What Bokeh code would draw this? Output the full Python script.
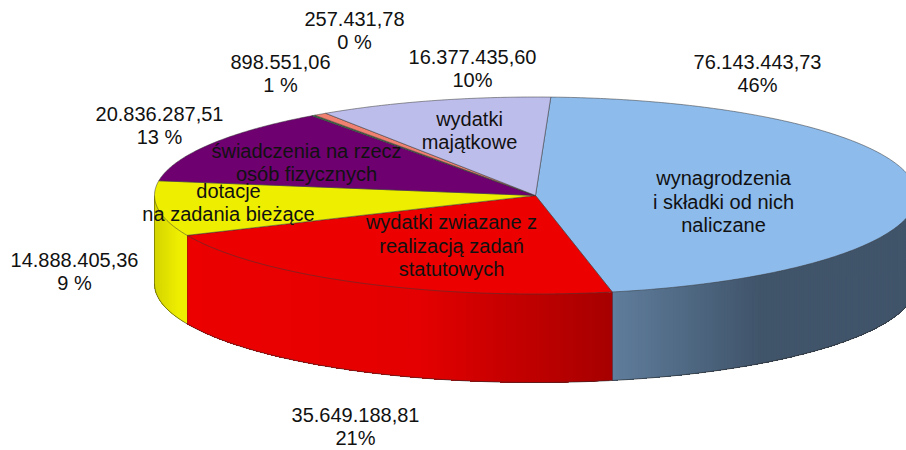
import math
from bokeh.plotting import figure, ColumnDataSource
from bokeh.models import Range1d
from bokeh.core.properties import value
from bokeh.embed import file_html
from bokeh.resources import INLINE

categories = ["wynagrodzenia\ni składki od nich\nnaliczane",
              "wydatki zwiazane z\nrealizacją zadań\nstatutowych",
              "dotacje\nna zadania bieżące",
              "świadczenia na rzecz\nosób fizycznych",
              "", "",
              "wydatki\nmajątkowe"]
values = [76143443.73, 35649188.81, 14888405.36, 20836287.51, 257431.78, 898551.06, 16377435.60]
percents = ["46%", "21%", "9 %", "13 %", "0 %", "1 %", "10%"]
top_colors = ["#8DBBEC", "#EC0000", "#EEEE00", "#6F0070", "#2F6F3F", "#F08070", "#BDBDEC"]

# layout (picture pixels)
WIDTH, HEIGHT = 906, 450
CX, CY, RX, RY, DEPTH = 535, 195, 381, 98.5, 88.5
START = 2.3
FS = "20px"
LINE = 23.5
value_label_pos = [(757, 61), (355, 414), (74, 259), (159, 113), (354, 18), (280, 61), (472, 56)]
inner_label_pos = [(723, 201), (451, 245), (228, 202), (306, 162), None, None, (469, 130)]
# side shading stops: (x, rgb)
shade = {
    0: [(612, (0x5f, 0x7d, 0x9c)), (760, (0x40, 0x54, 0x6a)), (906, (0x40, 0x54, 0x6a))],
    1: [(187, (0xEC, 0, 0)), (420, (0xE4, 0, 0)), (500, (0xC8, 0, 0)), (612, (0xA6, 0, 0))],
    2: [(154, (0xD4, 0xD4, 0)), (178, (0xEE, 0xEE, 0))],
}

def pt(t):
    r = math.radians(t)
    return CX + RX * math.sin(r), CY - RY * math.cos(r)

def colour(stops, x):
    if x <= stops[0][0]:
        c = stops[0][1]
    elif x >= stops[-1][0]:
        c = stops[-1][1]
    else:
        for (x0, c0), (x1, c1) in zip(stops, stops[1:]):
            if x0 <= x <= x1:
                f = (x - x0) / (x1 - x0)
                c = tuple(c0[i] + f * (c1[i] - c0[i]) for i in range(3))
                break
    return "#%02x%02x%02x" % tuple(int(round(v)) for v in c)

def arc(a, b, step=0.5):
    n = max(2, int(abs(b - a) / step))
    return [a + (b - a) * i / n for i in range(n + 1)]

total = sum(values)
angles = [START]
for v in values:
    angles.append(angles[-1] + v / total * 360)

p = figure(width=WIDTH, height=HEIGHT, output_backend="svg", toolbar_location=None,
           x_range=Range1d(0, WIDTH), y_range=Range1d(HEIGHT, 0),
           x_axis_location=None, y_axis_location=None, min_border=0,
           outline_line_color=None, background_fill_color="white")
p.grid.visible = False

# side wall strips: each strip reaches to the far end of the slice so seams are covered
for i in range(3):
    a = max(angles[i], 90)
    b = min(angles[i + 1], 270)
    ts = arc(a, b, 0.5)
    for k in range(len(ts) - 1):
        tail = ts[k:]
        xs = [pt(t)[0] for t in tail]
        ys = [pt(t)[1] for t in tail]
        xs2 = xs + xs[::-1]
        ys2 = ys + [y + DEPTH for y in ys[::-1]]
        c = colour(shade[i], (xs[0] + xs[1]) / 2)
        p.patch(xs2, ys2, fill_color=c, line_color=None)
    ex = [pt(t)[0] for t in ts]
    ey = [pt(t)[1] + DEPTH for t in ts]
    p.line(ex, ey, line_color="#2a2a2a", line_width=0.8, line_alpha=0.8)
    if angles[i + 1] < 270:
        x1, y1 = pt(angles[i + 1])
        p.line([x1, x1], [y1, y1 + DEPTH], line_color="#400000", line_width=0.8, line_alpha=0.7)
x0, y0 = pt(270)
p.line([x0, x0], [y0, y0 + DEPTH], line_color="#777700", line_width=0.8)

# top slices
for i, c in enumerate(top_colors):
    ts = arc(angles[i], angles[i + 1])
    xs = [CX] + [pt(t)[0] for t in ts]
    ys = [CY] + [pt(t)[1] for t in ts]
    p.patch(xs, ys, fill_color=c, line_color="#3a3a3a", line_width=0.7, line_alpha=0.75)

def add_text(tx, ty, tt):
    src = ColumnDataSource(dict(x=tx, y=ty, t=tt))
    p.text("x", "y", text="t", source=src, text_align="center", text_baseline="middle",
           text_font=value("Liberation Sans"), text_font_size=FS, text_color="#111111")

tx, ty, tt = [], [], []
for v, pc, (x, y) in zip(values, percents, value_label_pos):
    s = f"{v:,.2f}".replace(",", " ").replace(".", ",").replace(" ", ".")
    tx += [x, x]
    ty += [y, y + LINE]
    tt += [s, pc]
for cat, pos in zip(categories, inner_label_pos):
    if pos is None:
        continue
    lines = cat.split("\n")
    for j, ln in enumerate(lines):
        tx.append(pos[0])
        ty.append(pos[1] + (j - (len(lines) - 1) / 2) * LINE)
        tt.append(ln)
add_text(tx, ty, tt)

open("out.html", "w").write(file_html(p, INLINE))
